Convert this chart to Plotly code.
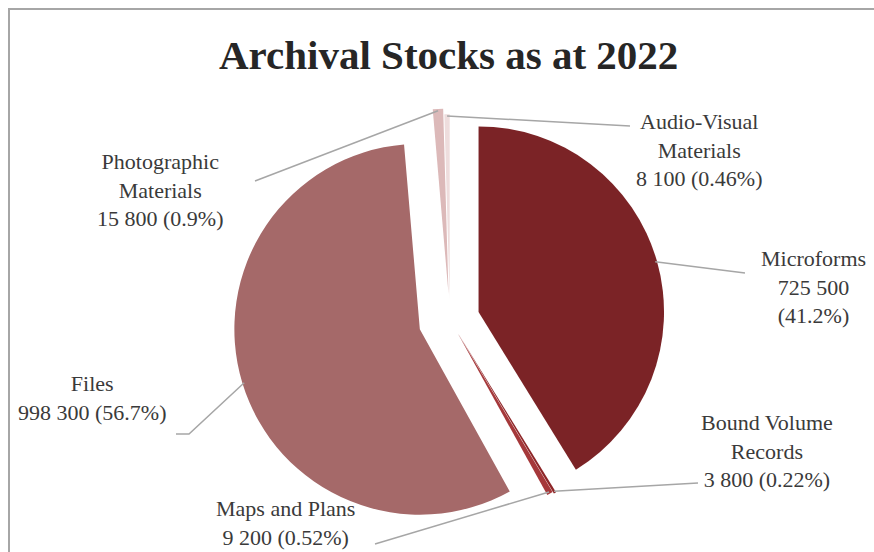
import math
import plotly.graph_objects as go

W, H = 874, 552

# Slices in clockwise order starting at 12 o'clock
categories = ["Microforms", "Bound Volume Records", "Maps and Plans",
              "Files", "Photographic Materials", "Audio-Visual Materials"]
label_names = ["Microforms", "Bound Volume<br>Records", "Maps and Plans",
               "Files", "Photographic<br>Materials", "Audio-Visual<br>Materials"]
values = [725500, 3800, 9200, 998300, 15800, 8100]
percents = [41.2, 0.22, 0.52, 56.7, 0.9, 0.46]
value_pct_sep = ["<br>", " ", " ", " ", " ", " "]

colors = ["#7b2326", "#8e2628", "#a5383a", "#a56969", "#dcb9b9", "#eedddd"]
pulls = [0.16, 0.09, 0.08, 0.17, 0.14, 0.11]

# label text centres and leader-line anchor points (pixels)
label_pos = [(813, 287), (767, 451), (285, 523), (92, 398), (160, 190), (699, 150)]
leader_ends = [[(745, 273)], [(698, 483)], [(375, 544)],
               [(176, 434), (189, 434)], [(255, 181)], [(630, 126)]]

FONT = "Liberation Serif"
TEXT_COLOR = "#3a3a3a"

# pie box (pixels)
CX, CY, BOX = 450, 320, 434
dom_x = [(CX - BOX / 2) / W, (CX + BOX / 2) / W]
dom_y = [1 - (CY + BOX / 2) / H, 1 - (CY - BOX / 2) / H]
R = (BOX / 2) / (1 + max(pulls))


def px(x, y):
    return x / W, 1 - y / H


fig = go.Figure()
fig.add_trace(go.Pie(
    labels=categories,
    values=values,
    sort=False,
    direction="clockwise",
    rotation=0,
    pull=pulls,
    marker=dict(colors=colors, line=dict(width=0)),
    textinfo="none",
    hoverinfo="label+value+percent",
    domain=dict(x=dom_x, y=dom_y),
    showlegend=False,
))

total = sum(values)
shapes = []
annotations = []
cum = 0
for i, v in enumerate(values):
    mid = (cum + v / 2) / total * 2 * math.pi
    cum += v
    dist = R * (0.99 + pulls[i])
    tip = (CX + dist * math.sin(mid), CY - dist * math.cos(mid))
    pts = leader_ends[i] + [tip]
    path = "M " + " L ".join(f"{px(*p)[0]:.5f},{px(*p)[1]:.5f}" for p in pts)
    shapes.append(dict(type="path", xref="paper", yref="paper", path=path,
                       line=dict(color="#a6a6a6", width=1.5)))
    value_txt = f"{v:,}".replace(",", " ")
    text = f"{label_names[i]}<br>{value_txt}{value_pct_sep[i]}({percents[i]:g}%)"
    lx, ly = px(*label_pos[i])
    annotations.append(dict(x=lx, y=ly, xref="paper", yref="paper", text=text,
                            showarrow=False, xanchor="center", yanchor="middle",
                            align="center",
                            font=dict(family=FONT, size=22, color=TEXT_COLOR)))

# chart frame
shapes.append(dict(type="rect", xref="paper", yref="paper",
                   x0=9 / W, y0=1 - 9 / H, x1=1.02, y1=-0.02,
                   line=dict(color="#a6a6a6", width=2)))

annotations.append(dict(x=448 / W, y=1 - 55 / H, xref="paper", yref="paper",
                        text="<b>Archival Stocks as at 2022</b>", showarrow=False,
                        xanchor="center", yanchor="middle",
                        font=dict(family=FONT, size=41, color="#262626")))

fig.update_layout(
    width=W, height=H,
    margin=dict(l=0, r=0, t=0, b=0),
    paper_bgcolor="white",
    plot_bgcolor="white",
    shapes=shapes,
    annotations=annotations,
)

fig.write_html("out.html")
